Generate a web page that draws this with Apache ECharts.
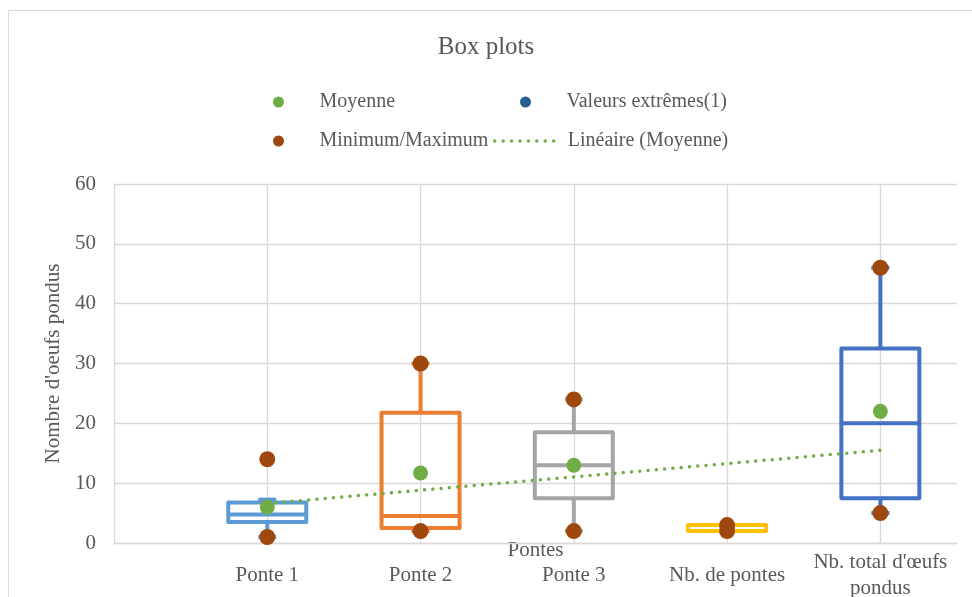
<!DOCTYPE html>
<html>
<head>
<meta charset="utf-8">
<script src="https://cdn.jsdelivr.net/npm/echarts@6/dist/echarts.min.js"></script>
<style>
html,body{margin:0;padding:0;background:#fff;}
#chart{width:972px;height:597px;}
</style>
</head>
<body>
<div id="chart"></div>
<script>
// ---- Data ----
const categories = ['Ponte 1', 'Ponte 2', 'Ponte 3', 'Nb. de pontes', "Nb. total d'œufs\npondus"];
const whiskerLow  = [1,    2,     2,    2, 5];
const q1Values    = [3.5,  2.5,   7.5,  2, 7.5];
const medianVals  = [4.75, 4.5,   13,   2, 20];
const q3Values    = [6.75, 21.75, 18.5, 3, 32.5];
const whiskerHigh = [7.25, 30,    24,   3, 46];
const meanValues  = [6,    11.7,  13,   2.5, 22];
const minValues   = [1,    2,     2,    2, 5];
const maxValues   = [14,   30,    24,   3, 46];
const outlierPoints = [];              // Valeurs extrêmes(1): none visible
const trendX = [1, 5];                 // Linéaire (Moyenne) end points
const trendY = [6.6, 15.5];
const yTicks = [0, 10, 20, 30, 40, 50, 60];

const boxColors = ['#5B9BD5', '#ED7D31', '#A5A5A5', '#FFC000', '#4472C4'];
const FONT = 'Liberation Serif';
const TXT = '#595959';

const boxData = categories.map((c, i) => [i + 1, whiskerLow[i], q1Values[i], medianVals[i], q3Values[i], whiskerHigh[i]]);
const meanData = categories.map((c, i) => [i + 1, meanValues[i]]);
const minMaxData = categories.map((c, i) => [i + 1, minValues[i]]).concat(categories.map((c, i) => [i + 1, maxValues[i]]));
const trendData = trendX.map((x, i) => [x, trendY[i]]);

const chart = echarts.init(document.getElementById('chart'), null, {renderer: 'canvas'});

function legendCfg(name, left, top, extra) {
  return Object.assign({
    data: [name], left: left, top: top, orient: 'horizontal',
    itemWidth: 72, itemHeight: 11, selectedMode: false,
    textStyle: {fontFamily: FONT, fontSize: 20, color: TXT}
  }, extra || {});
}

const option = {
  animation: false,
  backgroundColor: '#fff',
  title: {
    text: 'Box plots', left: 'center', top: 30,
    textStyle: {fontFamily: FONT, fontSize: 25, fontWeight: 'normal', color: TXT}
  },
  graphic: [{
    type: 'rect', silent: true, z: -10,
    shape: {x: 8.5, y: 10.5, width: 1200, height: 1200},
    style: {fill: 'none', stroke: '#d9d9d9', lineWidth: 1}
  }],
  legend: [
    legendCfg('Moyenne', 268, 87),
    legendCfg('Valeurs extrêmes(1)', 515, 87),
    legendCfg('Minimum/Maximum', 268, 126),
    legendCfg('Linéaire (Moyenne)', 488, 126, {
      itemWidth: 60, itemStyle: {opacity: 0},
      lineStyle: {color: '#70AD47', width: 3.5, type: [0.01, 8.4], cap: 'round'},
      textStyle: {fontFamily: FONT, fontSize: 20, color: TXT, padding: [0, 0, 0, 8]}
    })
  ],
  grid: {left: 114, right: 15, top: 184, bottom: 54, containLabel: false, outerBoundsMode: 'none'},
  xAxis: {
    type: 'value', min: 0, max: 5.5, interval: 1,
    name: 'Pontes', nameLocation: 'middle', nameGap: 7, nameMoveOverlap: false,
    nameTextStyle: {fontFamily: FONT, fontSize: 21, color: TXT, verticalAlign: 'middle'},
    axisLine: {show: true, lineStyle: {color: '#d9d9d9', width: 1.3}},
    axisTick: {show: false},
    axisLabel: {
      fontFamily: FONT, fontSize: 21, color: TXT, margin: 32, verticalAlign: 'middle', lineHeight: 26,
      showMinLabel: true, showMaxLabel: true,
      formatter: function (v) {
        const i = Math.round(v) - 1;
        return (Math.abs(v - Math.round(v)) < 1e-6 && i >= 0 && i < categories.length) ? categories[i] : '';
      }
    },
    splitLine: {show: true, lineStyle: {color: ['#d9d9d9', '#d9d9d9', '#d9d9d9', '#d9d9d9', '#d9d9d9', '#d9d9d9', 'rgba(0,0,0,0)'], width: 1.3}}
  },
  yAxis: {
    type: 'value', min: yTicks[0], max: yTicks[yTicks.length - 1], interval: 10,
    name: "Nombre d'oeufs pondus", nameLocation: 'middle', nameGap: 50, nameRotate: 90,
    nameTextStyle: {fontFamily: FONT, fontSize: 21, color: TXT},
    axisLine: {show: false}, axisTick: {show: false},
    axisLabel: {fontFamily: FONT, fontSize: 21, color: TXT, margin: 18},
    splitLine: {show: true, lineStyle: {color: '#d9d9d9', width: 1.3}}
  },
  series: [
    {
      name: 'Boîtes', type: 'custom', data: boxData, z: 2,
      renderItem: function (params, api) {
        const x = api.value(0);
        const pLow = api.coord([x, api.value(1)]);
        const pQ1 = api.coord([x, api.value(2)]);
        const pMed = api.coord([x, api.value(3)]);
        const pQ3 = api.coord([x, api.value(4)]);
        const pHigh = api.coord([x, api.value(5)]);
        const cx = pLow[0];
        const hw = 39, cap = 9;
        const style = {stroke: boxColors[params.dataIndex], lineWidth: 4, fill: null, lineJoin: 'round', lineCap: 'butt'};
        return {
          type: 'group',
          children: [
            {type: 'line', shape: {x1: cx, y1: pLow[1], x2: cx, y2: pQ1[1]}, style: style},
            {type: 'line', shape: {x1: cx, y1: pQ3[1], x2: cx, y2: pHigh[1]}, style: style},
            {type: 'line', shape: {x1: cx - cap, y1: pLow[1], x2: cx + cap, y2: pLow[1]}, style: style},
            {type: 'line', shape: {x1: cx - cap, y1: pHigh[1], x2: cx + cap, y2: pHigh[1]}, style: style},
            {type: 'rect', shape: {x: cx - hw, y: pQ3[1], width: 2 * hw, height: pQ1[1] - pQ3[1]}, style: style},
            {type: 'line', shape: {x1: cx - hw, y1: pMed[1], x2: cx + hw, y2: pMed[1]}, style: style}
          ]
        };
      }
    },
    {
      name: 'Linéaire (Moyenne)', type: 'line', data: trendData, symbol: 'none', z: 3,
      itemStyle: {color: '#70AD47'},
      lineStyle: {color: '#70AD47', width: 3.5, type: [0.01, 8.3], cap: 'round'}
    },
    {
      name: 'Moyenne', type: 'scatter', data: meanData, symbol: 'circle', symbolSize: 15, z: 4,
      itemStyle: {color: '#70AD47', opacity: 1}
    },
    {
      name: 'Minimum/Maximum', type: 'scatter', data: minMaxData, symbol: 'circle', symbolSize: 16, z: 5,
      itemStyle: {color: '#9E480E', opacity: 1}
    },
    {
      name: 'Valeurs extrêmes(1)', type: 'scatter', data: outlierPoints, symbol: 'circle', symbolSize: 16, z: 5,
      itemStyle: {color: '#255E91', opacity: 1}
    }
  ]
};
chart.setOption(option);
</script>
</body>
</html>
